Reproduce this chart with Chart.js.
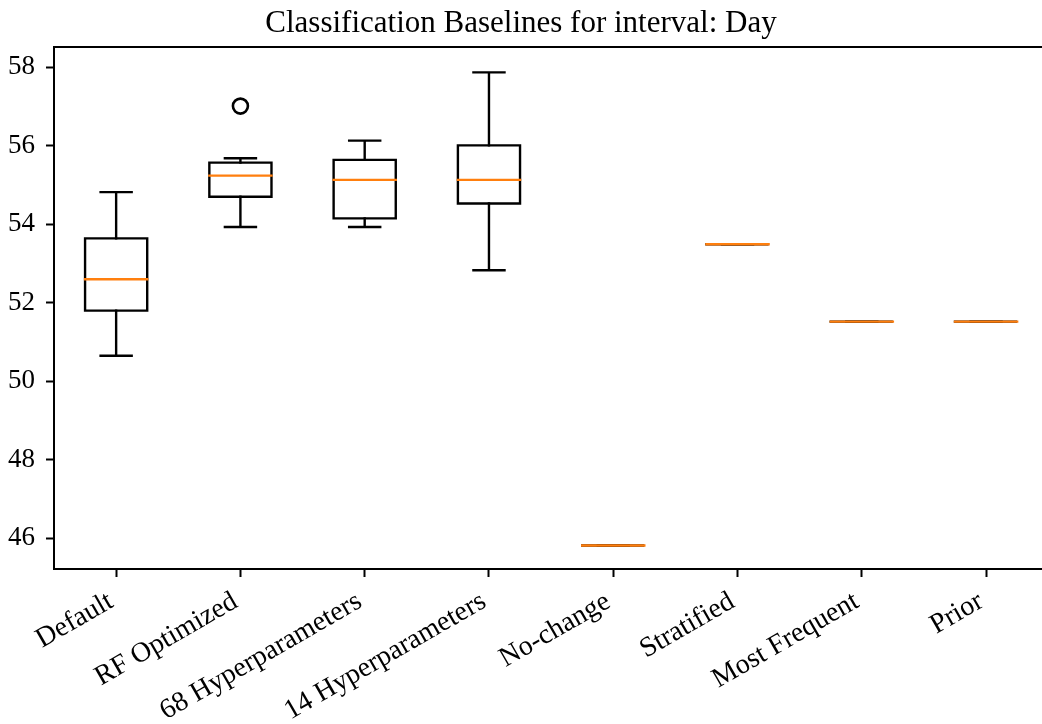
<!DOCTYPE html>
<html>
<head>
<meta charset="utf-8">
<script src="https://cdn.jsdelivr.net/npm/chart.js@4.4.1/dist/chart.umd.min.js"></script>
<style>
  html, body { margin: 0; padding: 0; background: #fff; overflow: hidden; }
  canvas { display: block; }
</style>
</head>
<body>
<canvas id="boxChart" width="1042" height="724"></canvas>
<script>
// Accuracy (%) per classifier, five-number summaries
const categories = ['Default', 'RF Optimized', '68 Hyperparameters', '14 Hyperparameters',
                    'No-change', 'Stratified', 'Most Frequent', 'Prior'];
const whiskerLow  = [50.65, 53.93, 53.93, 52.83, 45.82, 53.49, 51.52, 51.52];
const q1          = [51.80, 54.70, 54.15, 54.53, 45.82, 53.49, 51.52, 51.52];
const median      = [52.60, 55.24, 55.13, 55.13, 45.82, 53.49, 51.52, 51.52];
const q3          = [53.64, 55.57, 55.64, 56.01, 45.82, 53.49, 51.52, 51.52];
const whiskerHigh = [54.82, 55.68, 56.13, 57.87, 45.82, 53.49, 51.52, 51.52];
const outliers    = [[], [57.01], [], [], [], [], [], []];
const yTickValues = [46, 48, 50, 52, 54, 56, 58];

const BOX_HALF = 0.25;
const CAP_HALF = 0.125;
const FONT = '"Liberation Serif", "DejaVu Serif", serif';

// turn per-box segment lists into one line dataset, null points break the path
function segments(build) {
    const pts = [];
    categories.forEach((_, i) => {
        const x = i + 1;
        build(x, i).forEach(seg => {
            seg.forEach(([px, py]) => pts.push({ x: px, y: py }));
            pts.push({ x: x, y: null });
        });
    });
    return pts;
}

const boxPts = segments((x, i) => [[
    [x - BOX_HALF, q1[i]], [x + BOX_HALF, q1[i]], [x + BOX_HALF, q3[i]],
    [x - BOX_HALF, q3[i]], [x - BOX_HALF, q1[i]]
]]);

const whiskerPts = segments((x, i) => [
    [[x, q1[i]], [x, whiskerLow[i]]],
    [[x, q3[i]], [x, whiskerHigh[i]]],
    [[x - CAP_HALF, whiskerLow[i]], [x + CAP_HALF, whiskerLow[i]]],
    [[x - CAP_HALF, whiskerHigh[i]], [x + CAP_HALF, whiskerHigh[i]]]
]);

const medianPts = segments((x, i) => [[[x - BOX_HALF, median[i]], [x + BOX_HALF, median[i]]]]);

const outlierPts = [];
outliers.forEach((vals, i) => vals.forEach(v => outlierPts.push({ x: i + 1, y: v })));

const lineStyle = {
    type: 'line',
    borderWidth: 2.4,
    pointRadius: 0,
    tension: 0,
    spanGaps: false,
    borderCapStyle: 'square',
    borderJoinStyle: 'miter'
};

Chart.defaults.color = '#000';
Chart.defaults.font.family = FONT;

new Chart(document.getElementById('boxChart'), {
    type: 'scatter',
    data: {
        datasets: [
            { ...lineStyle, label: 'median', data: medianPts, borderColor: '#ff7f0e', order: 0 },
            { ...lineStyle, label: 'box', data: boxPts, borderColor: '#000', order: 1 },
            { ...lineStyle, label: 'whiskers', data: whiskerPts, borderColor: '#000', order: 2 },
            {
                type: 'scatter', label: 'fliers', data: outlierPts, order: 3,
                pointRadius: 7.5, pointBorderWidth: 2.6,
                pointBorderColor: '#000', pointBackgroundColor: 'rgba(0,0,0,0)'
            }
        ]
    },
    options: {
        responsive: false,
        animation: false,
        layout: { padding: 0, autoPadding: false },
        plugins: {
            legend: { display: false },
            tooltip: { enabled: false },
            title: {
                display: true,
                text: 'Classification Baselines for interval: Day',
                font: { family: FONT, size: 31, weight: 'normal' },
                color: '#000',
                padding: { top: 5, bottom: 5 }
            }
        },
        scales: {
            x: {
                type: 'linear',
                min: 0.5,
                max: 8.45,
                afterBuildTicks: s => { s.ticks = categories.map((_, i) => ({ value: i + 1 })); },
                afterFit: s => { s.height = 155; s.paddingLeft = 0; s.paddingRight = 0; },
                ticks: {
                    callback: v => categories[v - 1],
                    minRotation: 30,
                    maxRotation: 30,
                    padding: 8,
                    labelOffset: -5,
                    font: { size: 28 }
                },
                grid: { drawOnChartArea: false, tickLength: 8, tickWidth: 2, tickColor: '#000' },
                border: { display: true, color: '#000', width: 2 }
            },
            xTop: {
                type: 'linear',
                position: 'top',
                min: 0.5,
                max: 8.45,
                afterFit: s => { s.height = 0; s.paddingLeft = 0; s.paddingRight = 0; },
                ticks: { display: false },
                grid: { drawOnChartArea: false, drawTicks: false },
                border: { display: true, color: '#000', width: 2 }
            },
            y: {
                min: 45.22,
                max: 58.51,
                afterBuildTicks: s => { s.ticks = yTickValues.map(v => ({ value: v })); },
                afterFit: s => { s.width = 54; },
                ticks: { padding: 11, font: { size: 27 } },
                grid: { drawOnChartArea: false, tickLength: 8, tickWidth: 2, tickColor: '#000' },
                border: { display: true, color: '#000', width: 2 }
            }
        }
    }
});
</script>
</body>
</html>
